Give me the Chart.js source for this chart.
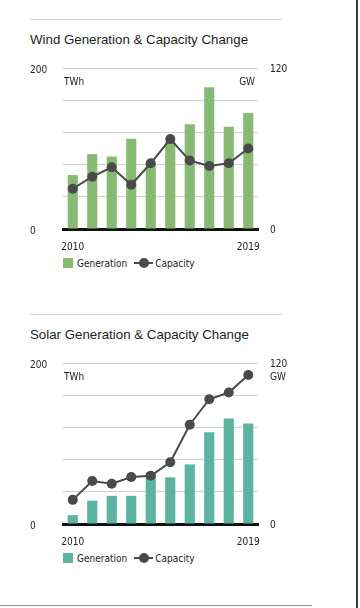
<!DOCTYPE html>
<html>
<head>
<meta charset="utf-8">
<script src="https://cdn.jsdelivr.net/npm/chart.js@4/dist/chart.umd.min.js"></script>
<style>
  html, body { margin: 0; padding: 0; background: #fff; }
  body { width: 360px; height: 608px; position: relative; overflow: hidden; font-family: "Liberation Sans", Arial, Helvetica, sans-serif; }
  .section { position: absolute; left: 0; width: 360px; height: 295px; }
  .sep { position: absolute; top: 19px; left: 30px; width: 252px; height: 1px; background: #d2d2d2; }
  .title { position: absolute; top: 32px; left: 30px; font-size: 13.3px; line-height: 16px; color: #1e1e1e; white-space: nowrap; }
  .wrap { position: absolute; top: 50px; left: 0; width: 360px; height: 200px; }
  .legend { position: absolute; top: 256px; left: 63px; height: 14px; font: 10px "Liberation Sans Narrow", "DejaVu Sans Condensed", Arial, sans-serif; color: #222; display: flex; align-items: center; white-space: nowrap; }
  .legend .sw { display: inline-block; width: 10px; height: 10px; margin-right: 4px; }
  .legend .ln { display: inline-block; position: relative; width: 19px; height: 10px; margin: 0 2px 0 7px; }
  .legend .ln::before { content: ""; position: absolute; left: 0; right: 0; top: 4px; height: 2px; background: #4a4a4a; }
  .legend .ln::after { content: ""; position: absolute; left: 5px; top: 0; width: 10px; height: 10px; border-radius: 50%; background: #4a4a4a; }
  .edge-r { position: absolute; left: 356px; top: 0; width: 2px; height: 608px; background: #3a3a3a; }
  .edge-b { position: absolute; left: 0; top: 605px; width: 312px; height: 1px; background: #9a9a9a; }
</style>
</head>
<body>

<div class="section" style="top:0px">
  <div class="sep"></div>
  <div class="title">Wind Generation &amp; Capacity Change</div>
  <div class="wrap"><canvas id="windChart" width="360" height="200"></canvas></div>
  <div class="legend" id="windLegend"></div>
</div>

<div class="section" style="top:295px">
  <div class="sep"></div>
  <div class="title">Solar Generation &amp; Capacity Change</div>
  <div class="wrap"><canvas id="solarChart" width="360" height="200"></canvas></div>
  <div class="legend" id="solarLegend"></div>
</div>

<div class="edge-r"></div>
<div class="edge-b"></div>

<script>
// data
const years = ["2010","2011","2012","2013","2014","2015","2016","2017","2018","2019"];
const windGeneration = [67, 93, 90, 112, 82, 108, 130, 176, 127, 144];   // TWh
const windCapacity = [30, 39, 46, 33, 49, 67, 51, 47, 49, 60];           // GW
const solarGeneration = [11, 29, 35, 35, 64, 58, 74, 114, 131, 125];     // TWh
const solarCapacity = [18, 32, 30, 35, 36, 46, 74, 93, 98, 111];         // GW
const leftTicks = [0, 200];
const rightTicks = [0, 120];

const narrow = "'Liberation Sans Narrow', 'DejaVu Sans Condensed', Arial, sans-serif";
const lineColor = "#4a4a4a";

// draws the TWh / GW unit labels
const unitLabels = {
  id: "unitLabels",
  afterDraw(chart, args, opts) {
    const ctx = chart.ctx, a = chart.chartArea;
    ctx.save();
    ctx.font = "10px " + narrow;
    ctx.fillStyle = "#222";
    ctx.textBaseline = "middle";
    ctx.textAlign = "left";
    ctx.fillText(opts.left, a.left + 1, a.top + 14);
    if (opts.rightOutside) {
      ctx.fillText(opts.right, a.right + 12, a.top + 14);
    } else {
      ctx.textAlign = "right";
      ctx.fillText(opts.right, a.right - 3, a.top + 14);
    }
    ctx.restore();
  }
};

function makeChart(id, legendId, gen, cap, barColor, rightOutside) {
  const chart = new Chart(document.getElementById(id), {
    type: "bar",
    data: {
      labels: years,
      datasets: [
        { type: "bar", label: "Generation", data: gen, yAxisID: "y", backgroundColor: barColor,
          barPercentage: 0.52, categoryPercentage: 1, order: 1 },
        { type: "line", label: "Capacity", data: cap, yAxisID: "y1", borderColor: lineColor, borderWidth: 2,
          pointRadius: 5, pointBorderWidth: 0, pointBackgroundColor: lineColor, fill: false, tension: 0, order: 0 }
      ]
    },
    options: {
      responsive: false,
      animation: false,
      devicePixelRatio: 1,
      layout: { padding: { top: 14, left: 30, right: 0, bottom: 0 } },
      plugins: {
        legend: { display: false },
        tooltip: { enabled: false },
        unitLabels: { left: "TWh", right: "GW", rightOutside: rightOutside }
      },
      scales: {
        x: {
          grid: { display: false },
          border: { display: true, color: "#111", width: 3 },
          ticks: {
            autoSkip: false, maxRotation: 0, padding: 4, color: "#222", font: { family: narrow, size: 10 },
            callback: (v, i) => (i === 0 || i === years.length - 1) ? years[i] : ""
          },
          afterFit: s => { s.height = 21; }
        },
        y: {
          position: "left", min: 0, max: 200,
          grid: { color: "#d0d0d0", drawTicks: false },
          border: { display: false },
          ticks: {
            stepSize: 40, crossAlign: "far", padding: 0, labelOffset: 2, color: "#222",
            font: { family: narrow, size: 10 },
            callback: v => leftTicks.includes(v) ? v : ""
          },
          afterFit: s => { s.width = 33; }
        },
        y1: {
          position: "right", min: 0, max: 120,
          grid: { display: false, drawTicks: false },
          border: { display: false },
          ticks: {
            stepSize: 24, crossAlign: "near", padding: 12, labelOffset: 1, color: "#222",
            font: { family: narrow, size: 10 },
            callback: v => rightTicks.includes(v) ? v : ""
          },
          afterFit: s => { s.width = 102; }
        }
      }
    },
    plugins: [unitLabels]
  });

  // html legend
  const lg = document.getElementById(legendId);
  lg.innerHTML = '<span class="sw" style="background:' + barColor + '"></span>' + chart.data.datasets[0].label +
                 '<span class="ln"></span>' + chart.data.datasets[1].label;
  return chart;
}

makeChart("windChart", "windLegend", windGeneration, windCapacity, "#87ba72", false);
makeChart("solarChart", "solarLegend", solarGeneration, solarCapacity, "#5bb3a0", true);
</script>
</body>
</html>
